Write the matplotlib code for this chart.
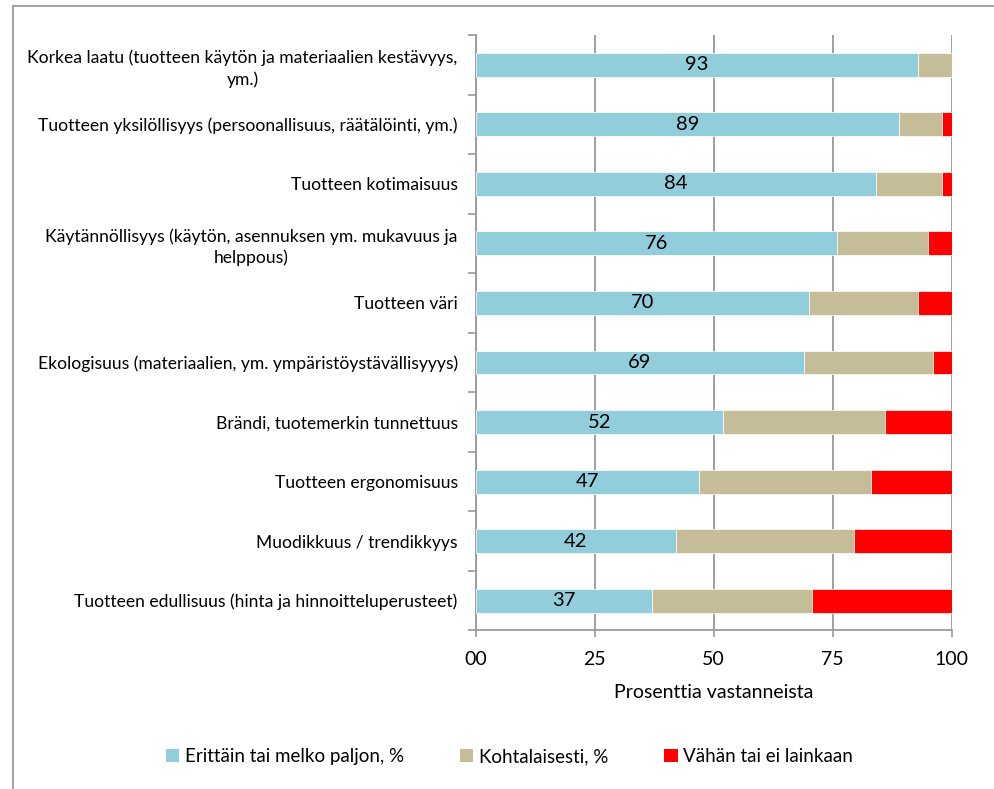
import matplotlib.pyplot as plt
from matplotlib.lines import Line2D
from matplotlib.patches import Patch

plt.rcParams["font.family"] = ["Lato", "DejaVu Sans"]

categories = [
    "Korkea laatu (tuotteen käytön ja materiaalien kestävyys,\nym.)",
    "Tuotteen yksilöllisyys (persoonallisuus, räätälöinti, ym.)",
    "Tuotteen kotimaisuus",
    "Käytännöllisyys (käytön, asennuksen ym. mukavuus ja\nhelppous)",
    "Tuotteen väri",
    "Ekologisuus (materiaalien, ym. ympäristöystävällisyyys)",
    "Brändi, tuotemerkin tunnettuus",
    "Tuotteen ergonomisuus",
    "Muodikkuus / trendikkyys",
    "Tuotteen edullisuus (hinta ja hinnoitteluperusteet)",
]
paljon = [93, 89, 84, 76, 70, 69, 52, 47, 42, 37]
kohtalaisesti = [7, 9, 14, 19, 23, 27, 34, 36, 37.5, 33.7]
vahan = [0, 2, 2, 5, 7, 4, 14, 17, 20.5, 29.3]
series_names = ["Erittäin tai melko paljon, %", "Kohtalaisesti, %", "Vähän tai ei lainkaan"]
colors = ["#92CDDC", "#C4BD97", "#FF0000"]
xticks = [0, 25, 50, 75, 100]
xtick_labels = ["00", "25", "50", "75", "100"]

fig = plt.figure(figsize=(9.95, 7.89), dpi=100)
ax = fig.add_axes([0.4781, 0.2009, 0.4784, 0.7548])

y = list(range(len(categories)))
h = 0.4
ax.barh(y, paljon, height=h, color=colors[0], edgecolor="white", linewidth=0.5, zorder=3)
left2 = paljon
ax.barh(y, kohtalaisesti, left=left2, height=h, color=colors[1], edgecolor="white", linewidth=0.5, zorder=3)
left3 = [a + b for a, b in zip(paljon, kohtalaisesti)]
ax.barh(y, vahan, left=left3, height=h, color=colors[2], edgecolor="white", linewidth=0.5, zorder=3)

for yi, v in zip(y, paljon):
    ax.text(v / 2, yi, f"{v:g}", ha="center", va="center", fontsize=14.5, color="black", zorder=4)

ax.set_xlim(0, 100)
ax.set_ylim(len(categories) - 0.5, -0.5)
ax.set_xticks(xticks)
ax.set_xticklabels(xtick_labels, fontsize=14)
ax.set_yticks(y)
ax.set_yticklabels(categories, fontsize=12.6, multialignment="center", linespacing=1.35)
ax.set_yticks([i - 0.5 for i in range(len(categories) + 1)], minor=True)
ax.tick_params(axis="y", which="major", length=0, pad=13)
ax.tick_params(axis="y", which="minor", length=6, color="#999999", width=1.2)
ax.tick_params(axis="x", length=5, color="#999999", width=1.2, pad=10)
ax.grid(axis="x", color="#999999", linewidth=1.3, zorder=0)
for s in ["top", "right"]:
    ax.spines[s].set_visible(False)
for s in ["left", "bottom"]:
    ax.spines[s].set_color("#999999")
    ax.spines[s].set_linewidth(1.3)
ax.set_xlabel("Prosenttia vastanneista", fontsize=14, labelpad=11)

handles = [Patch(facecolor=c, edgecolor="none") for c in colors]
fig.legend(handles, series_names, loc="center", bbox_to_anchor=(0.512, 0.041), ncol=3,
           frameon=False, fontsize=13.5, handlelength=0.7, handleheight=0.7,
           handletextpad=0.3, columnspacing=3.0)

# outer chart frame (left and top edges visible)
fig.add_artist(Line2D([13 / 995, 13 / 995], [0, 1 - 6 / 789], transform=fig.transFigure,
                      color="#999999", linewidth=1.3))
fig.add_artist(Line2D([13 / 995, 1], [1 - 6 / 789, 1 - 6 / 789], transform=fig.transFigure,
                      color="#999999", linewidth=1.3))

fig.savefig("out.png", dpi=100)
plt.close(fig)
